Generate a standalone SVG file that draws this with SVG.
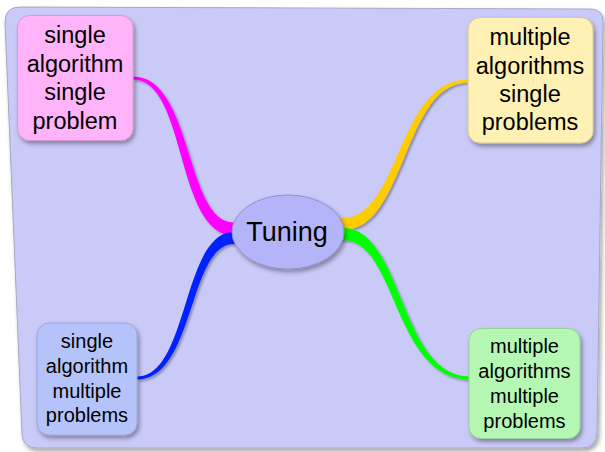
<svg xmlns="http://www.w3.org/2000/svg" width="605" height="452" viewBox="0 0 605 452">
<defs>
<filter id="sh" x="-20%" y="-20%" width="140%" height="140%">
<feDropShadow dx="2" dy="3" stdDeviation="2" flood-color="#000" flood-opacity="0.35"/>
</filter>
<filter id="shs" x="-20%" y="-20%" width="140%" height="140%">
<feDropShadow dx="2" dy="2" stdDeviation="1.2" flood-color="#000" flood-opacity="0.3"/>
</filter>
</defs>
<style>
.t{font-family:"Liberation Sans",Arial,Helvetica,sans-serif;fill:#000;text-anchor:middle}
.big{font-size:23.5px}
.small{font-size:20px}
.box{stroke-width:1}
</style>
<rect x="0" y="0" width="605" height="452" fill="#fff"/>
<path d="M20,7 L590,9 Q603,9 603,22 L597,433 Q596,448 582,448 L37,448 Q23,448 22,434 L5,22 Q5,7 20,7 Z" fill="#cacaf9" stroke="#a8a8c0" stroke-width="1" filter="url(#sh)"/>
<g id="connectors" filter="url(#shs)">
<path d="M133,76.5 C193,76.5 185,222.5 234,222.5 L246,222.5 L246,235.5 L234,235.5 C175,235.5 187,79.5 133,79.5 Z" fill="#ff00ff"/>
<path d="M246,232 L234,232 C182,232 189,376.5 137,376.5 L137,379.5 C195,379.5 188,244 234,244 L246,244 Z" fill="#0022ff"/>
<path d="M330,218 L343,218 C400,218 397,79.5 468,79.5 L468,82.5 C403,82.5 406,230 343,230 L330,230 Z" fill="#ffcc00"/>
<path d="M330,228 L343,228 C403,228 399,376.5 470,376.5 L470,379.5 C393,379.5 397,240 343,240 L330,240 Z" fill="#00ff00"/>
</g>
<g id="n1">
<rect x="17.5" y="15.5" width="115.5" height="125" rx="12" fill="#ffb4fa" stroke="#d898d0" class="box" filter="url(#sh)"/>
<text class="t big" x="75" y="43">single</text>
<text class="t big" x="75" y="71.5">algorithm</text>
<text class="t big" x="75" y="100">single</text>
<text class="t big" x="75" y="128.5">problem</text>
</g>
<g id="n2">
<rect x="468" y="17.5" width="125" height="125.5" rx="12" fill="#fff0b4" stroke="#d8c898" class="box" filter="url(#sh)"/>
<text class="t big" x="530" y="45">multiple</text>
<text class="t big" x="530" y="73.5">algorithms</text>
<text class="t big" x="530" y="102">single</text>
<text class="t big" x="530" y="130">problems</text>
</g>
<g id="n3">
<rect x="37" y="323" width="100" height="112" rx="12" fill="#b4c4fa" stroke="#98a8d8" class="box" filter="url(#sh)"/>
<text class="t small" x="87" y="348">single</text>
<text class="t small" x="87" y="373">algorithm</text>
<text class="t small" x="87" y="397.5">multiple</text>
<text class="t small" x="87" y="422">problems</text>
</g>
<g id="n4">
<rect x="469" y="328.5" width="111" height="110" rx="12" fill="#b4f8b4" stroke="#98d098" class="box" filter="url(#sh)"/>
<text class="t small" x="524.5" y="353">multiple</text>
<text class="t small" x="524.5" y="378">algorithms</text>
<text class="t small" x="524.5" y="403">multiple</text>
<text class="t small" x="524.5" y="427.5">problems</text>
</g>
<g id="center">
<ellipse cx="288" cy="232" rx="56" ry="37" fill="#b4b4f8" stroke="#9090c8" stroke-width="1" filter="url(#sh)"/>
<text class="t" style="font-size:27px" x="287" y="241">Tuning</text>
</g>
</svg>
